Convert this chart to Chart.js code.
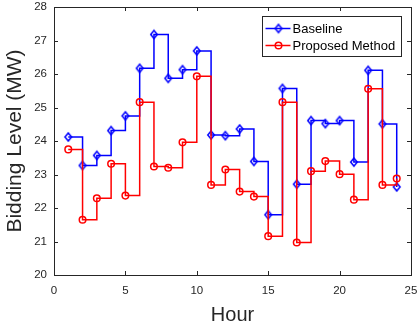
<!DOCTYPE html>
<html>
<head>
<meta charset="utf-8">
<script src="https://cdn.jsdelivr.net/npm/chart.js@4/dist/chart.umd.min.js"></script>
<style>
  html, body { margin: 0; padding: 0; background: #fff; }
  #wrap { width: 417px; height: 331px; }
</style>
</head>
<body>
<div id="wrap"><canvas id="bids"></canvas></div>
<script>
const hours = [1, 2, 3, 4, 5, 6, 7, 8, 9, 10, 11, 12, 13, 14, 15, 16, 17, 18, 19, 20, 21, 22, 23, 24];
const baseline = [24.12, 23.27, 23.57, 24.31, 24.75, 26.17, 27.18, 25.87, 26.13, 26.69, 24.18, 24.16, 24.36, 23.39, 21.8, 25.57, 22.71, 24.61, 24.52, 24.61, 23.37, 26.11, 24.51, 22.63];
const proposed = [23.75, 21.65, 22.29, 23.32, 22.37, 25.16, 23.24, 23.2, 23.96, 25.93, 22.69, 23.15, 22.49, 22.34, 21.16, 25.16, 20.97, 23.1, 23.4, 23.01, 22.25, 25.56, 22.69, 22.88];
const xTicks = [0, 5, 10, 15, 20, 25];
const yTicks = [20, 21, 22, 23, 24, 25, 26, 27, 28];

const axisColor = '#262626';
const font = "'Liberation Sans', Arial, Helvetica, sans-serif";

function pts(vals) {
  return hours.map((h, i) => ({ x: h, y: vals[i] }));
}

// matlab's diamond is a bit taller than wide
function diamond(color) {
  const c = document.createElement('canvas');
  c.width = 10; c.height = 12;
  const g = c.getContext('2d');
  g.strokeStyle = color;
  g.lineWidth = 1.5;
  g.beginPath();
  g.moveTo(5, 2); g.lineTo(8.3, 6); g.lineTo(5, 10); g.lineTo(1.7, 6);
  g.closePath();
  g.stroke();
  return c;
}

// frame, inward ticks and the legend box
const matlabAxes = {
  id: 'matlabAxes',
  afterDraw(chart) {
    const ctx = chart.ctx;
    const a = chart.chartArea;
    const xs = chart.scales.x, ys = chart.scales.y;
    ctx.save();
    ctx.strokeStyle = axisColor;
    ctx.lineWidth = 1;
    ctx.strokeRect(Math.round(a.left) + 0.5, Math.round(a.top) + 0.5, Math.round(a.right - a.left), Math.round(a.bottom - a.top));
    const len = 4;
    ctx.beginPath();
    xTicks.forEach(v => {
      const px = Math.round(xs.getPixelForValue(v)) + 0.5;
      ctx.moveTo(px, a.bottom); ctx.lineTo(px, a.bottom - len);
      ctx.moveTo(px, a.top); ctx.lineTo(px, a.top + len);
    });
    yTicks.forEach(v => {
      const py = Math.round(ys.getPixelForValue(v)) + 0.5;
      ctx.moveTo(a.left, py); ctx.lineTo(a.left + len, py);
      ctx.moveTo(a.right, py); ctx.lineTo(a.right - len, py);
    });
    ctx.stroke();

    // legend
    const bw = 139, bh = 40;
    const bx = Math.round(a.right - 10 - bw) + 0.5, by = Math.round(a.top + 9) + 0.5;
    ctx.fillStyle = '#fff';
    ctx.fillRect(bx, by, bw, bh);
    ctx.strokeStyle = axisColor;
    ctx.lineWidth = 1;
    ctx.strokeRect(bx, by, bw, bh);
    ctx.font = '13px ' + font;
    ctx.textBaseline = 'middle';
    chart.data.datasets.forEach((ds, i) => {
      const cy = by + 12 + i * 17;
      ctx.strokeStyle = ds.borderColor;
      ctx.fillStyle = 'rgba(0,0,0,0)';
      ctx.lineWidth = 1.5;
      ctx.beginPath();
      ctx.moveTo(bx + 3, cy); ctx.lineTo(bx + 28, cy);
      ctx.stroke();
      Chart.helpers.drawPoint(ctx, {
        pointStyle: ds.pointStyle, radius: ds.pointRadius, rotation: 0, borderWidth: 1.5
      }, bx + 16, cy);
      ctx.fillStyle = '#000';
      ctx.fillText(ds.label, bx + 30, cy + 1);
    });
    ctx.restore();
  }
};

new Chart(document.getElementById('bids'), {
  type: 'line',
  data: {
    datasets: [{
      label: 'Baseline',
      data: pts(baseline),
      stepped: 'before',
      borderColor: '#0000ff',
      borderWidth: 1.5,
      pointStyle: diamond('#0000ff'),
      pointRadius: 4,
      pointBorderWidth: 1.5,
      pointBackgroundColor: 'rgba(0,0,0,0)',
      pointBorderColor: '#0000ff',
      order: 1
    }, {
      label: 'Proposed Method',
      data: pts(proposed),
      stepped: 'before',
      borderColor: '#ff0000',
      borderWidth: 1.5,
      pointStyle: 'circle',
      pointRadius: 3.3,
      pointBorderWidth: 1.5,
      pointBackgroundColor: 'rgba(0,0,0,0)',
      pointBorderColor: '#ff0000',
      order: 0
    }]
  },
  options: {
    responsive: true,
    maintainAspectRatio: false,
    animation: false,
    layout: { padding: { top: 7, right: 6, left: 0, bottom: 0 } },
    plugins: {
      legend: { display: false },
      tooltip: { enabled: false }
    },
    scales: {
      x: {
        type: 'linear',
        min: 0,
        max: 25,
        afterFit: s => { s.height = 56; s.paddingLeft = 0; s.paddingRight = 0; },
        afterBuildTicks: s => { s.ticks = xTicks.map(v => ({ value: v })); },
        border: { display: false },
        grid: { display: false, drawTicks: false },
        ticks: { color: axisColor, font: { family: font, size: 11.5 }, padding: 9, maxRotation: 0 },
        title: { display: true, text: 'Hour', color: axisColor, font: { family: font, size: 20 }, padding: { top: 0, bottom: 4 } }
      },
      y: {
        type: 'linear',
        min: 20,
        max: 28,
        afterFit: s => { s.width = 54; s.paddingTop = 0; s.paddingBottom = 0; },
        afterBuildTicks: s => { s.ticks = yTicks.map(v => ({ value: v })); },
        border: { display: false },
        grid: { display: false, drawTicks: false },
        ticks: { color: axisColor, font: { family: font, size: 11.5 }, padding: 7 },
        title: { display: true, text: 'Bidding Level (MW)', color: axisColor, font: { family: font, size: 21 }, padding: { top: 3, bottom: 0 } }
      }
    }
  },
  plugins: [matlabAxes]
});
</script>
</body>
</html>
